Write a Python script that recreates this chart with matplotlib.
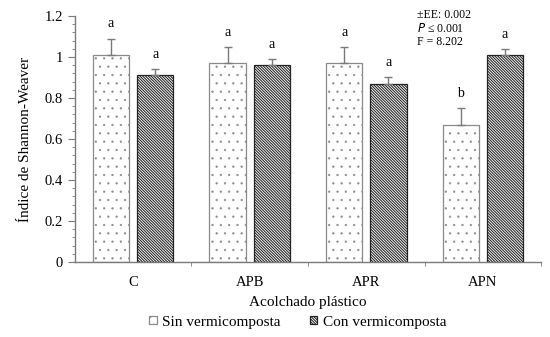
import numpy as np
import matplotlib.pyplot as plt
import matplotlib as mpl
from matplotlib.ticker import MultipleLocator

mpl.rcParams['font.family'] = ['Liberation Serif', 'DejaVu Serif']

# Data
categories = ['C', 'APB', 'APR', 'APN']
sin_vals = [1.01, 0.97, 0.97, 0.67]
sin_err = [0.08, 0.08, 0.08, 0.08]
con_vals = [0.91, 0.96, 0.87, 1.01]
con_err = [0.03, 0.03, 0.03, 0.03]
sin_letters = ['a', 'a', 'a', 'b']
con_letters = ['a', 'a', 'a', 'a']
stats_lines = ['±EE: 0.002', '$P$ ≤ 0.001', 'F = 8.202']

fig = plt.figure(figsize=(5.5, 3.37), dpi=100)
ax = fig.add_axes([0.136, 0.2226, 0.848, 0.73])

x = np.arange(len(categories))
w = 0.31
off = 0.19
ecol = '#7a7a7a'

mpl.rcParams['hatch.linewidth'] = 0.4
b1 = ax.bar(x - off, sin_vals, w, color='white', edgecolor='#8a8a8a', hatch='..',
            linewidth=0.9, label='Sin vermicomposta')
mpl.rcParams['hatch.linewidth'] = 0.75
b2 = ax.bar(x + off, con_vals, w, color='white', edgecolor='#222222', hatch='\\' * 12,
            linewidth=0.9, label='Con vermicomposta')
ax.errorbar(x - off, sin_vals, yerr=[np.zeros(4), sin_err], fmt='none',
            ecolor=ecol, elinewidth=1, capsize=3, capthick=1)
ax.errorbar(x + off, con_vals, yerr=[np.zeros(4), con_err], fmt='none',
            ecolor=ecol, elinewidth=1, capsize=3, capthick=1)

for i in range(4):
    ax.text(x[i] - off, sin_vals[i] + sin_err[i] + 0.04, sin_letters[i],
            ha='center', va='bottom', fontsize=10)
    ax.text(x[i] + off, con_vals[i] + con_err[i] + 0.04, con_letters[i],
            ha='center', va='bottom', fontsize=10)

ax.set_xlim(-0.5, 3.5)
ax.set_ylim(0, 1.2)
ax.yaxis.set_minor_locator(MultipleLocator(0.04))
ax.set_yticks([0, 0.2, 0.4, 0.6, 0.8, 1.0, 1.2])
ax.set_yticklabels(['0', '0.2', '0.4', '0.6', '0.8', '1', '1.2'])
ax.set_xticks(x)
ax.set_xticklabels(categories)
ax.set_xticks([0.5, 1.5, 2.5, 3.5], minor=True)
ax.tick_params(axis='x', which='major', length=0, labelsize=10.5, pad=10)
ax.tick_params(axis='x', which='minor', length=3, color=ecol)
ax.tick_params(axis='y', which='major', length=5, color=ecol, labelsize=10.5)
ax.tick_params(axis='y', which='minor', length=2.5, color=ecol)

for s in ['top', 'right']:
    ax.spines[s].set_visible(False)
for s in ['left', 'bottom']:
    ax.spines[s].set_color(ecol)
    ax.spines[s].set_linewidth(1)

ax.set_ylabel('Índice de Shannon-Weaver', fontsize=11, labelpad=9)
ax.set_xlabel('Acolchado plástico', fontsize=11, labelpad=5)

for k, line in enumerate(stats_lines):
    fig.text(417 / 550, 1 - (15 + 13.5 * k) / 337, line,
             ha='left', va='center', fontsize=8.5)

leg = fig.legend(handles=[b1, b2], loc='center', bbox_to_anchor=(0.541, 0.0445),
                 ncol=2, frameon=False, fontsize=11, handlelength=0.5,
                 handleheight=0.5, handletextpad=0.35, columnspacing=1.9)

fig.savefig('out.png', dpi=100)
